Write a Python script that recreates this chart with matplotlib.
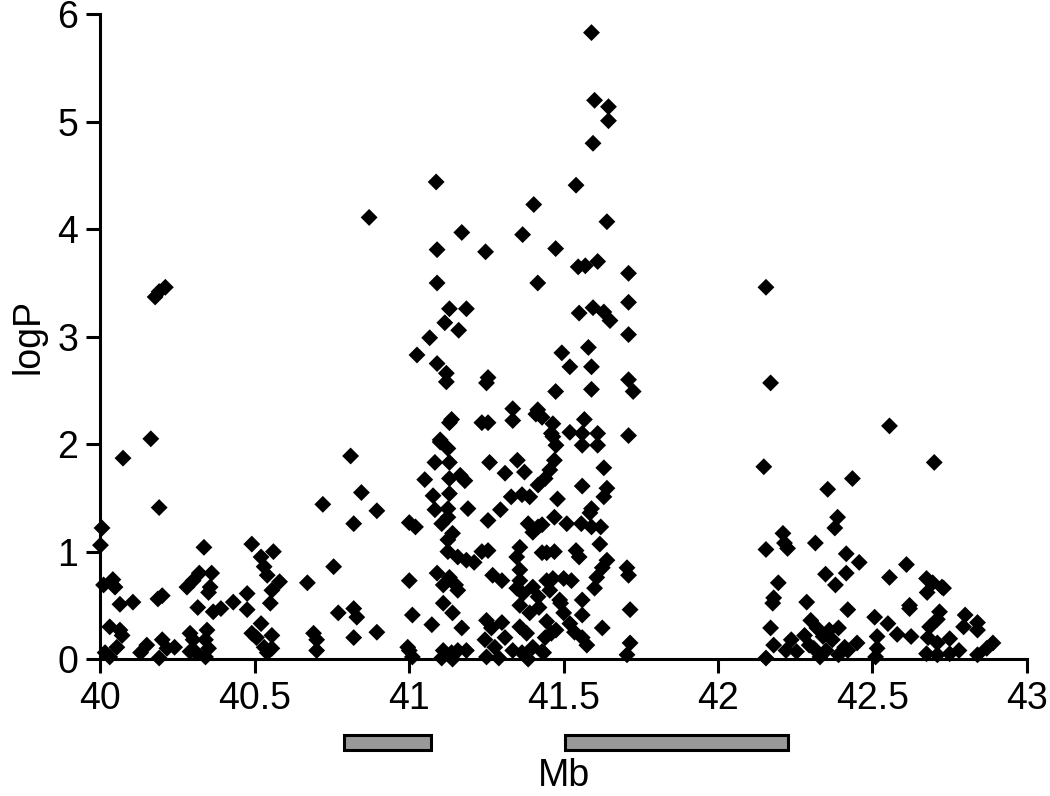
import matplotlib
matplotlib.use("Agg")
import matplotlib.pyplot as plt
from matplotlib.patches import Rectangle
import matplotlib.transforms as mtransforms

# ---- data: positions (Mb) and logP values ----
left_mb = [40.163, 40.073, 40.19, 40.005, 40.0, 40.335, 40.49, 40.56, 40.52, 40.53,
           40.54, 40.58, 40.555, 40.55, 40.01, 40.04, 40.047, 40.063, 40.105, 40.186,
           40.20, 40.28, 40.30, 40.32, 40.36, 40.355, 40.35, 40.315, 40.365, 40.39,
           40.43, 40.475, 40.475, 40.67, 40.755, 40.81, 40.845, 40.72, 40.82, 40.895,
           41.0, 41.02, 41.0, 41.01, 40.77, 40.82, 40.83, 40.895, 40.82, 40.69,
           40.70, 40.70, 41.0, 41.01, 40.03, 40.063, 40.07, 40.053, 40.03, 40.015,
           40.13, 40.15, 40.19, 40.20, 40.215, 40.24, 40.29, 40.30, 40.29, 40.31,
           40.34, 40.345, 40.34, 40.35, 40.49, 40.52, 40.505, 40.53, 40.555, 40.54,
           40.555, 40.995, 40.177, 40.19, 40.21, 40.87]
left_logp = [2.05, 1.87, 1.41, 1.22, 1.06, 1.04, 1.07, 1.0, 0.95, 0.86,
             0.78, 0.72, 0.64, 0.52, 0.69, 0.74, 0.67, 0.51, 0.53, 0.56,
             0.59, 0.67, 0.73, 0.80, 0.80, 0.67, 0.62, 0.48, 0.44, 0.47,
             0.53, 0.61, 0.46, 0.71, 0.86, 1.89, 1.55, 1.44, 1.26, 1.38,
             1.27, 1.23, 0.73, 0.41, 0.43, 0.47, 0.39, 0.25, 0.20, 0.24,
             0.18, 0.08, 0.08, 0.02, 0.30, 0.27, 0.22, 0.11, 0.02, 0.06,
             0.06, 0.13, 0.01, 0.18, 0.10, 0.11, 0.24, 0.18, 0.07, 0.06,
             0.02, 0.27, 0.18, 0.10, 0.24, 0.33, 0.20, 0.11, 0.22, 0.06,
             0.10, 0.11, 3.37, 3.42, 3.46, 4.11]

center_mb = [41.087, 41.403, 41.54, 41.17, 41.09, 41.247, 41.367, 41.474, 41.09, 41.416,
             41.13, 41.185, 41.115, 41.16, 41.066, 41.025, 41.09, 41.12, 41.12, 41.255,
             41.25, 41.494, 41.52, 41.474, 41.335, 41.416, 41.59, 41.60, 41.645, 41.645,
             41.595, 41.64, 41.547, 41.57, 41.61, 41.71, 41.55, 41.595, 41.63, 41.65,
             41.71, 41.71, 41.58, 41.59, 41.59, 41.71, 41.725, 41.567, 41.52, 41.56,
             41.61, 41.71, 41.56, 41.61, 41.465, 41.465, 41.475, 41.43, 41.47, 41.455,
             41.44, 41.63, 41.56, 41.64, 41.63, 41.59, 41.585, 41.48, 41.47, 41.51,
             41.557, 41.59, 41.62, 41.43, 41.617, 41.445, 41.47, 41.54, 41.55, 41.64,
             41.625, 41.607, 41.60, 41.705, 41.71, 41.465, 41.50, 41.525, 41.455, 41.445,
             41.56, 41.56, 41.49, 41.50, 41.52, 41.535, 41.56, 41.575, 41.475, 41.625,
             41.715, 41.715, 41.705, 41.44, 41.435, 41.13, 41.235, 41.10, 41.125, 41.083,
             41.13, 41.05, 41.13, 41.165, 41.18, 41.077, 41.13, 41.083, 41.125, 41.19,
             41.105, 41.125, 41.14, 41.125, 41.125, 41.157, 41.185, 41.21, 41.235, 41.09,
             41.13, 41.15, 41.157, 41.11, 41.11, 41.14, 41.073, 41.17, 41.11, 41.137,
             41.157, 41.185, 41.105, 41.14, 41.255, 41.335, 41.26, 41.35, 41.31, 41.373,
             41.417, 41.33, 41.365, 41.39, 41.295, 41.255, 41.385, 41.417, 41.40, 41.255,
             41.358, 41.348, 41.43, 41.27, 41.30, 41.358, 41.358, 41.348, 41.368, 41.40,
             41.417, 41.487, 41.358, 41.39, 41.42, 41.25, 41.266, 41.30, 41.358, 41.38,
             41.445, 41.46, 41.245, 41.277, 41.31, 41.335, 41.365, 41.40, 41.43, 41.25,
             41.29, 41.385, 41.137, 41.41, 41.46, 41.10]
center_logp = [4.44, 4.23, 4.41, 3.97, 3.81, 3.79, 3.95, 3.82, 3.50, 3.50,
               3.26, 3.26, 3.13, 3.06, 2.99, 2.83, 2.75, 2.66, 2.58, 2.62,
               2.57, 2.85, 2.72, 2.49, 2.33, 2.32, 5.83, 5.20, 5.14, 5.01,
               4.80, 4.07, 3.65, 3.66, 3.70, 3.59, 3.22, 3.27, 3.23, 3.15,
               3.32, 3.02, 2.90, 2.72, 2.51, 2.60, 2.49, 2.23, 2.11, 2.10,
               2.10, 2.08, 1.99, 1.99, 2.19, 2.07, 1.99, 2.25, 1.85, 1.76,
               1.68, 1.78, 1.61, 1.59, 1.51, 1.40, 1.36, 1.49, 1.32, 1.26,
               1.26, 1.23, 1.23, 1.25, 1.07, 0.99, 1.0, 1.01, 0.95, 0.92,
               0.85, 0.76, 0.66, 0.85, 0.78, 0.75, 0.75, 0.73, 0.64, 0.73,
               0.55, 0.41, 0.52, 0.43, 0.33, 0.25, 0.20, 0.13, 0.27, 0.29,
               0.46, 0.15, 0.04, 0.20, 0.06, 2.20, 2.20, 2.04, 1.96, 1.83,
               1.83, 1.67, 1.68, 1.71, 1.66, 1.52, 1.54, 1.39, 1.40, 1.40,
               1.26, 1.32, 1.17, 1.11, 1.00, 0.95, 0.92, 0.90, 1.00, 0.80,
               0.76, 0.69, 0.64, 0.69, 0.52, 0.43, 0.32, 0.29, 0.08, 0.06,
               0.08, 0.08, 0.01, 0.0, 2.20, 2.22, 1.83, 1.85, 1.73, 1.74,
               1.62, 1.51, 1.53, 1.51, 1.39, 1.29, 1.26, 1.23, 1.18, 1.01,
               1.04, 0.95, 0.99, 0.78, 0.73, 0.83, 0.73, 0.66, 0.61, 0.67,
               0.58, 0.55, 0.50, 0.43, 0.48, 0.36, 0.29, 0.34, 0.30, 0.24,
               0.35, 0.24, 0.18, 0.11, 0.20, 0.08, 0.06, 0.11, 0.07, 0.02,
               0.01, 0.0, 2.23, 2.28, 2.10, 2.02]

right_mb = [42.155, 42.17, 42.555, 42.148, 42.70, 42.435, 42.355, 42.387, 42.378, 42.21,
            42.225, 42.215, 42.155, 42.315, 42.415, 42.457, 42.348, 42.415, 42.38, 42.61,
            42.555, 42.675, 42.695, 42.725, 42.73, 42.677, 42.195, 42.177, 42.18, 42.287,
            42.62, 42.62, 42.42, 42.17, 42.18, 42.155, 42.507, 42.55, 42.58, 42.625,
            42.515, 42.515, 42.51, 42.717, 42.71, 42.685, 42.68, 42.71, 42.75, 42.675,
            42.71, 42.75, 42.78, 42.80, 42.795, 42.84, 42.84, 42.89, 42.87, 42.84,
            42.237, 42.22, 42.254, 42.28, 42.30, 42.32, 42.34, 42.36, 42.39, 42.37,
            42.31, 42.35, 42.39, 42.42, 42.45, 42.41, 42.33, 42.295]
right_logp = [3.46, 2.57, 2.17, 1.79, 1.83, 1.68, 1.58, 1.32, 1.22, 1.17,
              1.03, 1.08, 1.02, 1.08, 0.98, 0.90, 0.79, 0.80, 0.69, 0.88,
              0.76, 0.75, 0.71, 0.67, 0.66, 0.62, 0.71, 0.52, 0.57, 0.53,
              0.47, 0.50, 0.46, 0.29, 0.13, 0.01, 0.39, 0.33, 0.23, 0.21,
              0.21, 0.10, 0.02, 0.44, 0.37, 0.30, 0.20, 0.15, 0.19, 0.05,
              0.04, 0.05, 0.08, 0.41, 0.30, 0.34, 0.27, 0.15, 0.10, 0.04,
              0.18, 0.08, 0.07, 0.22, 0.36, 0.29, 0.21, 0.27, 0.29, 0.18,
              0.10, 0.08, 0.04, 0.08, 0.15, 0.11, 0.02, 0.13]

# gene/interval bars beneath the axis (start, end in Mb)
bar_starts = [40.79, 41.505]
bar_ends = [41.07, 42.225]

x_ticks = [40, 40.5, 41, 41.5, 42, 42.5, 43]
x_tick_labels = ["40", "40.5", "41", "41.5", "42", "42.5", "43"]
y_ticks = [0, 1, 2, 3, 4, 5, 6]

plt.rcParams['font.family'] = ['Liberation Sans', 'DejaVu Sans']

fig = plt.figure(figsize=(10.5, 7.96), dpi=100)
ax = fig.add_axes([0.0957, 0.172, 0.8823, 0.810])

for mb, lp in [(left_mb, left_logp), (center_mb, center_logp), (right_mb, right_logp)]:
    ax.scatter(mb, lp, marker='D', s=8.6 ** 2, color='black', edgecolors='none',
               clip_on=False, zorder=3)

ax.set_xlim(40, 43)
ax.set_ylim(0, 6)
ax.set_xticks(x_ticks)
ax.set_xticklabels(x_tick_labels)
ax.set_yticks(y_ticks)
ax.spines['top'].set_visible(False)
ax.spines['right'].set_visible(False)
for sp in ['left', 'bottom']:
    ax.spines[sp].set_linewidth(2.2)
ax.tick_params(axis='both', direction='out', length=10, width=2.2, labelsize=27, pad=6)

ax.set_ylabel('logP', fontsize=27, labelpad=8)

trans = mtransforms.blended_transform_factory(ax.transData, ax.transAxes)
for s, e in zip(bar_starts, bar_ends):
    ax.add_patch(Rectangle((s, -0.141), e - s, 0.023, transform=trans,
                           facecolor='#999999', edgecolor='black', linewidth=2.2,
                           clip_on=False))

ax.text(41.5, -0.181, 'Mb', transform=trans, ha='center', va='center', fontsize=27)

fig.savefig('out.png', dpi=100)
